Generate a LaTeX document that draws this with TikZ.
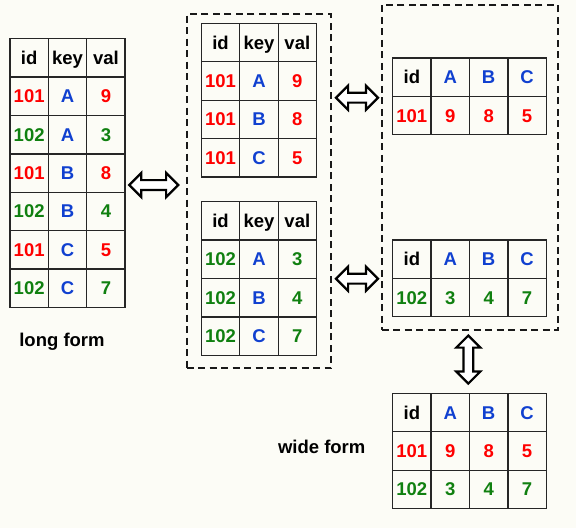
\documentclass[tikz,border=0pt]{standalone}
\usepackage{fontspec}
\setmainfont{Liberation Sans}
\usetikzlibrary{matrix,shapes.arrows}
\definecolor{bg}{RGB}{252,252,246}
\definecolor{cR}{RGB}{255,0,0}
\definecolor{cG}{RGB}{16,128,16}
\definecolor{cB}{RGB}{16,64,208}
\tikzset{
  tbl/.style={matrix of nodes, anchor=north west, inner sep=0pt, outer sep=0pt,
    column sep=-1.3pt, row sep=-1.3pt,
    nodes={draw=black!85, line width=1.3pt, minimum width=38.4pt, minimum height=38.4pt,
      inner sep=0pt, text height=13pt, text depth=0pt, anchor=center,
      font=\bfseries\fontsize{18.5}{21}\selectfont}},
  R/.style={text=cR}, G/.style={text=cG}, B/.style={text=cB},
  dbox/.style={draw=black!90, line width=2pt, dash pattern=on 7pt off 4.5pt, inner sep=0pt},
  arr/.style={double arrow, draw=black, fill=white, line width=2.2pt, inner sep=3.8pt,
    double arrow head extend=7.2pt},
  lbl/.style={font=\bfseries\fontsize{18.5}{21}\selectfont, text=black}
}
\begin{document}
\begin{tikzpicture}[x=1pt,y=-1pt]
\fill[bg] (0,0) rectangle (576,528);
\useasboundingbox (0,0) rectangle (576,528);

\node[dbox, minimum width=144.3pt, minimum height=354pt] (grp1) at (258.85,191.3) {};
\node[dbox, minimum width=176.6pt, minimum height=325pt] (grp2) at (470,167.5) {};

\matrix (long) [tbl] at (9.3,38) {
id & key & val \\
|[R]|101 & |[B]|A & |[R]|9 \\
|[G]|102 & |[B]|A & |[G]|3 \\
|[R]|101 & |[B]|B & |[R]|8 \\
|[G]|102 & |[B]|B & |[G]|4 \\
|[R]|101 & |[B]|C & |[R]|5 \\
|[G]|102 & |[B]|C & |[G]|7 \\
};

\matrix (m1) [tbl] at (200.7,22.7) {
id & key & val \\
|[R]|101 & |[B]|A & |[R]|9 \\
|[R]|101 & |[B]|B & |[R]|8 \\
|[R]|101 & |[B]|C & |[R]|5 \\
};

\matrix (m2) [tbl] at (200.7,201) {
id & key & val \\
|[G]|102 & |[B]|A & |[G]|3 \\
|[G]|102 & |[B]|B & |[G]|4 \\
|[G]|102 & |[B]|C & |[G]|7 \\
};

\matrix (w1) [tbl] at (392,57.3) {
id & |[B]|A & |[B]|B & |[B]|C \\
|[R]|101 & |[R]|9 & |[R]|8 & |[R]|5 \\
};

\matrix (w2) [tbl] at (392,239.3) {
id & |[B]|A & |[B]|B & |[B]|C \\
|[G]|102 & |[G]|3 & |[G]|4 & |[G]|7 \\
};

\matrix (wide) [tbl] at (392,392.7) {
id & |[B]|A & |[B]|B & |[B]|C \\
|[R]|101 & |[R]|9 & |[R]|8 & |[R]|5 \\
|[G]|102 & |[G]|3 & |[G]|4 & |[G]|7 \\
};

\node[arr, minimum height=49pt] (a1) at (153.7,185) {};
\node[arr, minimum height=42pt] (a2) at (357,97.7) {};
\node[arr, minimum height=42pt] (a3) at (357,278.7) {};
\node[arr, minimum height=48pt, shape border rotate=90] (a4) at (468.3,359.5) {};

\node[lbl] (lf) at (62,342) {long form};
\node[lbl] (wf) at (321.7,447.3) {wide form};
\end{tikzpicture}
\end{document}
